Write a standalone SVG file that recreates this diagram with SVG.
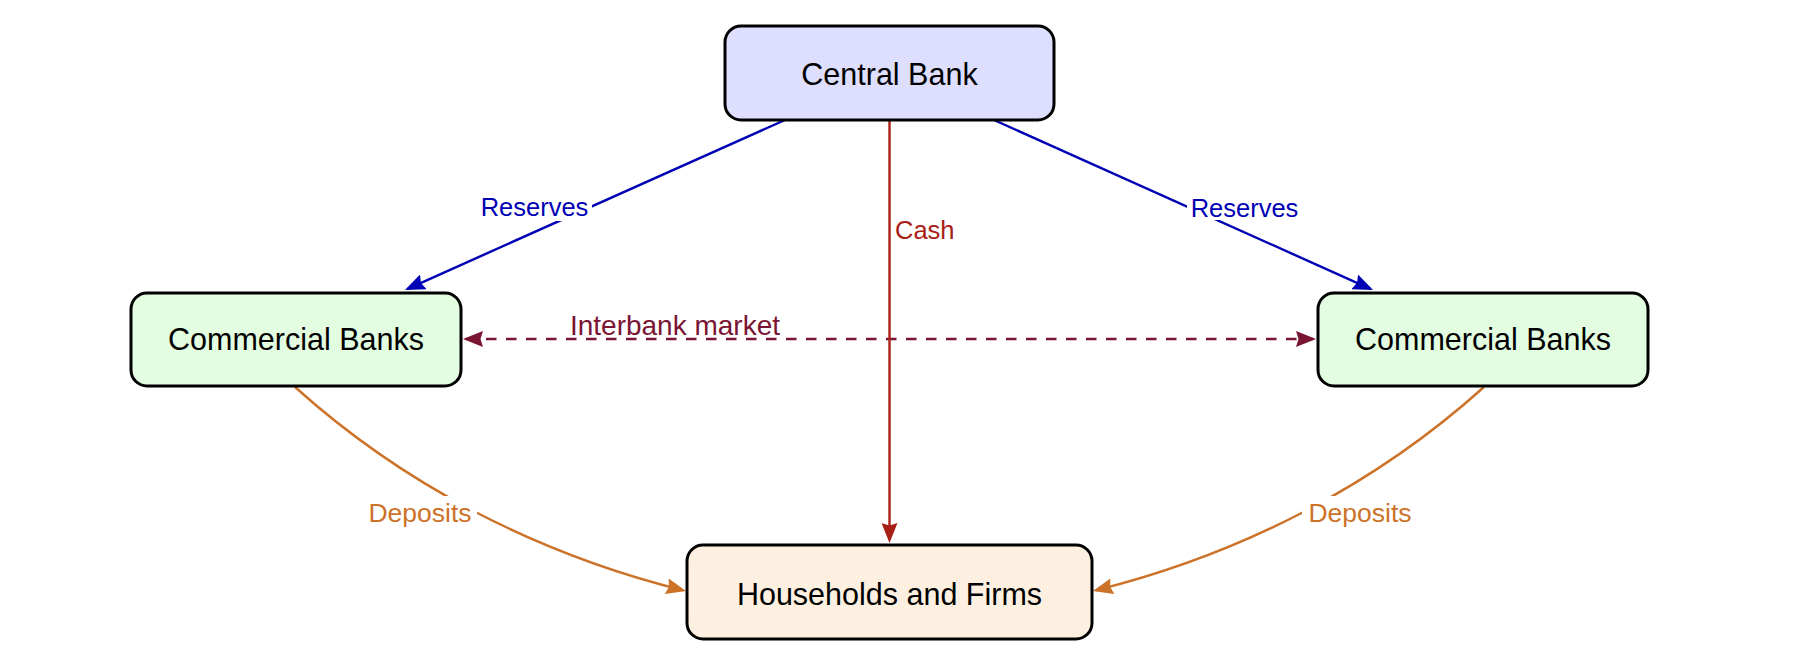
<svg xmlns="http://www.w3.org/2000/svg" width="1804" height="672" viewBox="0 0 1804 672">
<style>
.node rect{stroke:#000;stroke-width:3}
.node text{font-family:"Liberation Sans",Arial,sans-serif;font-size:30.5px;fill:#000;text-anchor:middle}
.edge{fill:none;stroke-width:2.4}
.lbl{font-family:"Liberation Sans",Arial,sans-serif;font-size:25.5px}
.bg{fill:#fff;stroke:none}
</style>
<defs>
<marker id="ab" viewBox="0 0 20 16" refX="17" refY="8" markerWidth="20" markerHeight="16" markerUnits="userSpaceOnUse" orient="auto-start-reverse"><path d="M0,0 L20,8 L0,16 L2.5,8 z" fill="#0000B4"/></marker>
<marker id="ar" viewBox="0 0 20 16" refX="17" refY="8" markerWidth="20" markerHeight="16" markerUnits="userSpaceOnUse" orient="auto-start-reverse"><path d="M0,0 L20,8 L0,16 L2.5,8 z" fill="#A82015"/></marker>
<marker id="ao" viewBox="0 0 20 16" refX="17" refY="8" markerWidth="20" markerHeight="16" markerUnits="userSpaceOnUse" orient="auto-start-reverse"><path d="M0,0 L20,8 L0,16 L2.5,8 z" fill="#CC7229"/></marker>
<marker id="ap" viewBox="0 0 20 16" refX="17" refY="8" markerWidth="20" markerHeight="16" markerUnits="userSpaceOnUse" orient="auto-start-reverse"><path d="M0,0 L20,8 L0,16 L2.5,8 z" fill="#7A1433"/></marker>
</defs>
<rect width="1804" height="672" fill="#fff"/>
<g id="connectors">
<path class="edge" d="M466,339 L1313,339" stroke="#7A1433" stroke-dasharray="10.5 9.5" marker-start="url(#ap)" marker-end="url(#ap)"/>
<text class="lbl" x="675" y="335" text-anchor="middle" fill="#7A1433" style="font-size:28px">Interbank market</text>
<path class="edge" d="M785,120 L407.7,288.8" stroke="#0000B4" marker-end="url(#ab)"/>
<rect class="bg" x="478" y="192" width="114" height="29"/>
<text class="lbl" x="534.5" y="216" text-anchor="middle" fill="#0000B4">Reserves</text>
<path class="edge" d="M994,120 L1370.3,288.8" stroke="#0000B4" marker-end="url(#ab)"/>
<rect class="bg" x="1187" y="192" width="114" height="28"/>
<text class="lbl" x="1244.5" y="217" text-anchor="middle" fill="#0000B4">Reserves</text>
<path class="edge" d="M889.5,120 L889.5,540" stroke="#A82015" marker-end="url(#ar)"/>
<rect class="bg" x="891" y="212" width="66" height="31"/>
<text class="lbl" x="895" y="239" fill="#A82015">Cash</text>
<path class="edge" d="M295,387 C406.5,487.4 540.5,554.7 683.1,590.3" stroke="#CC7229" marker-end="url(#ao)"/>
<rect class="bg" x="363" y="496" width="114" height="36"/>
<text class="lbl" x="420" y="522" text-anchor="middle" fill="#CC7229" style="font-size:26.5px">Deposits</text>
<path class="edge" d="M1484,387 C1372.5,487.4 1238.5,554.7 1095.9,590.3" stroke="#CC7229" marker-end="url(#ao)"/>
<rect class="bg" x="1302" y="496" width="114" height="36"/>
<text class="lbl" x="1360" y="522" text-anchor="middle" fill="#CC7229" style="font-size:26.5px">Deposits</text>
</g>
<g id="central-bank" class="node">
<rect x="725" y="26" width="329" height="94" rx="16" fill="#DEDEFF"/>
<text x="889.5" y="85">Central Bank</text>
</g>
<g id="commercial-banks-left" class="node">
<rect x="131" y="293" width="330" height="93" rx="16" fill="#E3FDE0"/>
<text x="296" y="350">Commercial Banks</text>
</g>
<g id="commercial-banks-right" class="node">
<rect x="1318" y="293" width="330" height="93" rx="16" fill="#E3FDE0"/>
<text x="1483" y="350">Commercial Banks</text>
</g>
<g id="households-firms" class="node">
<rect x="687" y="545" width="405" height="94" rx="16" fill="#FDF0E1"/>
<text x="889.5" y="605">Households and Firms</text>
</g>
</svg>
